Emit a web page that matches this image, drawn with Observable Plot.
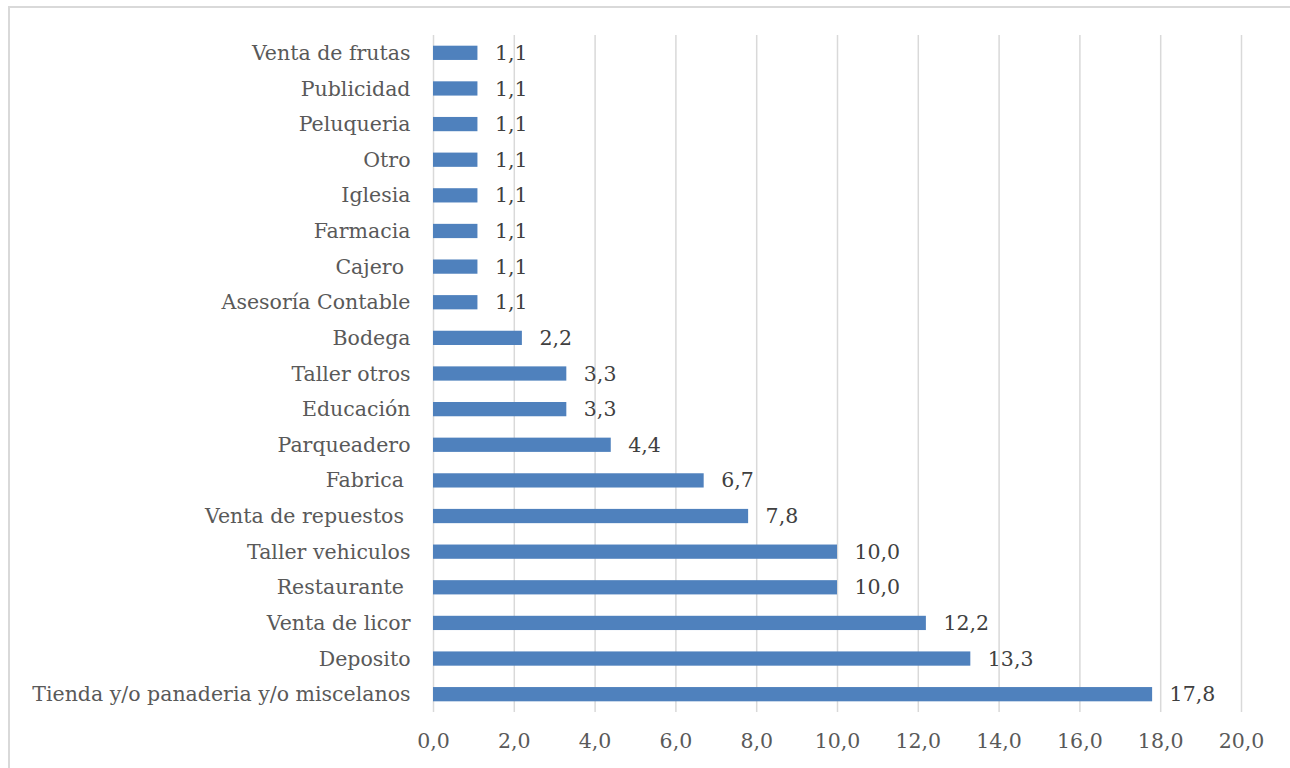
<!DOCTYPE html>
<html>
<head>
<meta charset="utf-8">
<script src="https://cdn.jsdelivr.net/npm/d3@7"></script>
<script src="https://cdn.jsdelivr.net/npm/@observablehq/plot@0.6"></script>
<style>
  html, body { margin: 0; padding: 0; background: #fff; overflow: hidden; }
  #wrap { position: relative; width: 1290px; height: 768px; }
  #frame { position: absolute; left: 8px; top: 6px; width: 1300px; height: 800px; border: 2px solid #d9d9d9; box-sizing: border-box; }
  #chart { position: absolute; left: 0; top: 0; }
</style>
</head>
<body>
<div id="wrap"><div id="frame"></div><div id="chart"></div></div>
<script>
const categories = [
  "Venta de frutas", "Publicidad", "Peluqueria", "Otro", "Iglesia", "Farmacia",
  "Cajero ", "Asesoría Contable", "Bodega", "Taller otros", "Educación",
  "Parqueadero", "Fabrica ", "Venta de repuestos ", "Taller vehiculos",
  "Restaurante ", "Venta de licor", "Deposito", "Tienda y/o panaderia y/o miscelanos"
];
const values = [1.1, 1.1, 1.1, 1.1, 1.1, 1.1, 1.1, 1.1, 2.2, 3.3, 3.3, 4.4, 6.7, 7.8, 10.0, 10.0, 12.2, 13.3, 17.8];
const xTicks = [0, 2, 4, 6, 8, 10, 12, 14, 16, 18, 20];

const data = categories.map((c, i) => ({category: c, value: values[i]}));
const fmt = v => d3.format(".1f")(v).replace(".", ",");
const font = "'DejaVu Serif', serif";

const chart = Plot.plot({
  width: 1290,
  height: 768,
  marginTop: 35,
  marginBottom: 56,
  marginLeft: 433,
  marginRight: 49,
  style: {fontFamily: font, fontSize: "20.5px", color: "#595959", background: "transparent"},
  x: {domain: [0, 20], ticks: xTicks, tickFormat: fmt, tickSize: 0, tickPadding: 21, label: null},
  y: {domain: categories, paddingInner: 0.6, paddingOuter: 0.3, round: false, tickSize: 0, tickPadding: 23, label: null},
  marks: [
    Plot.ruleX(xTicks, {stroke: "#d9d9d9", strokeWidth: 1.5}),
    Plot.barX(data, {x: "value", y: "category", fill: "#4f81bd"}),
    Plot.text(data, {x: "value", y: "category", text: d => fmt(d.value), dx: 17, textAnchor: "start", fill: "#404040", fontSize: 20.5})
  ]
});
document.getElementById("chart").appendChild(chart);
</script>
</body>
</html>
